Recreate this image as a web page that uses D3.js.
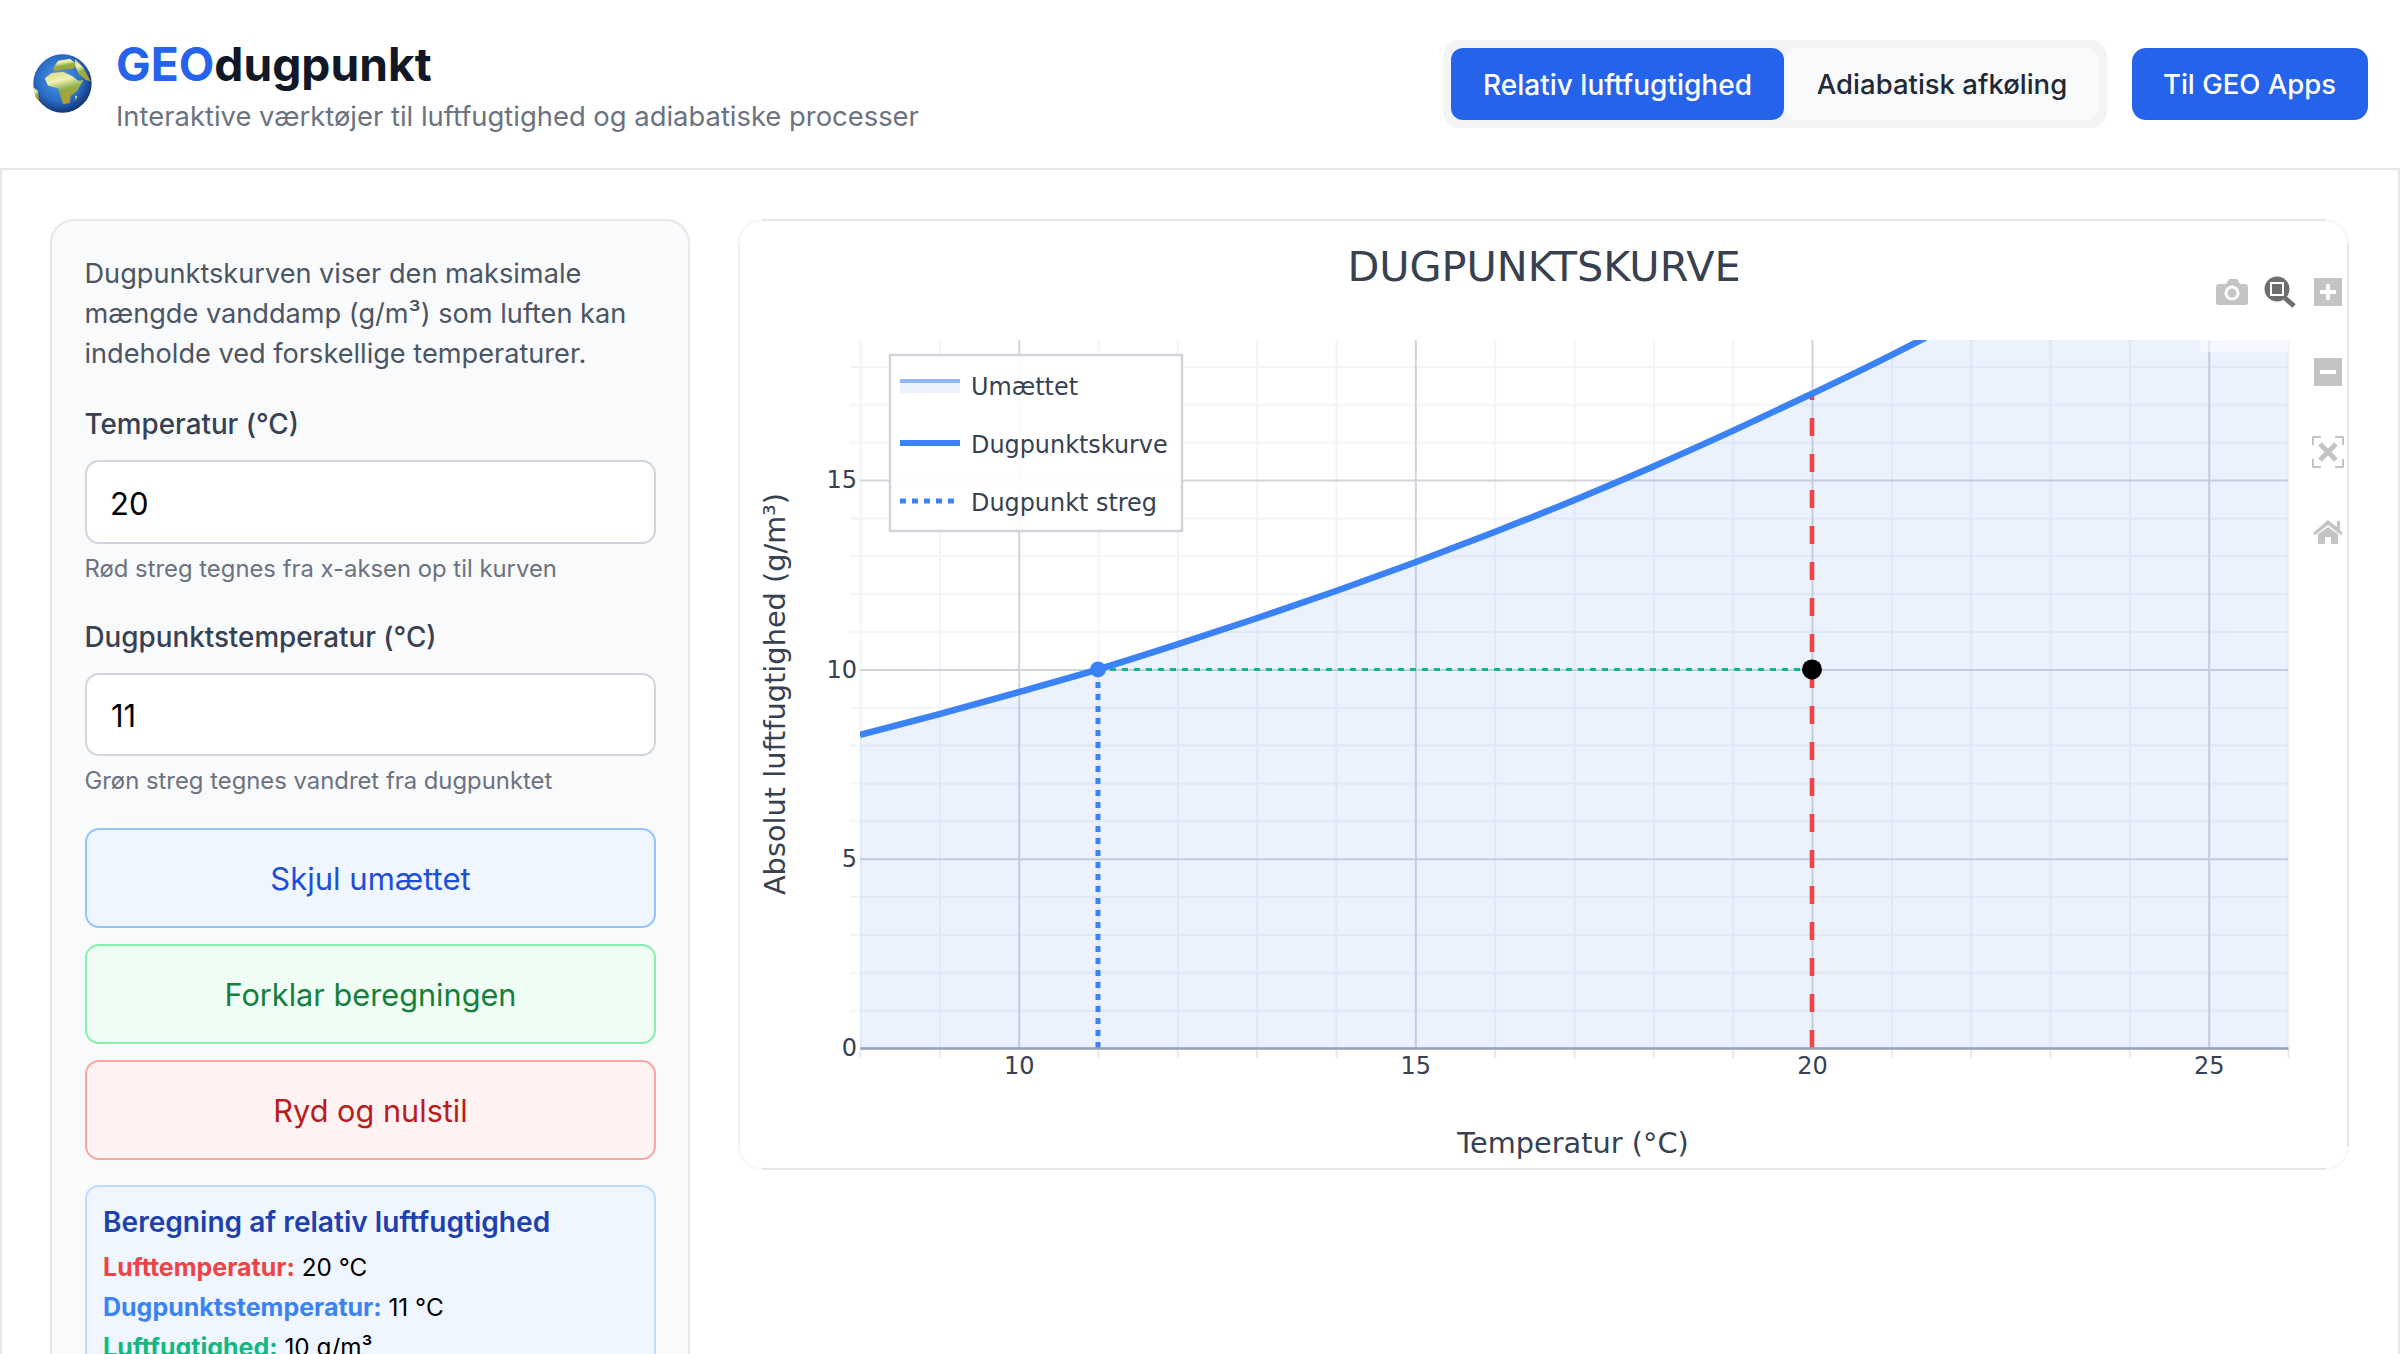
<!DOCTYPE html>
<html lang="da">
<head>
<meta charset="utf-8">
<title>GEOdugpunkt</title>
<script src="https://cdn.jsdelivr.net/npm/d3@7"></script>
<style>
  html, body { margin: 0; padding: 0; width: 2400px; height: 1354px; overflow: hidden; background: #fff; }
  body { font-family: Inter, "Noto Sans", sans-serif; position: relative; }
  .box { position: absolute; box-sizing: border-box; }
  .txt { position: absolute; white-space: nowrap; line-height: 1; }
  svg.chart { position: absolute; left: 0; top: 0; }
  svg.chart text { font-family: "DejaVu Sans", sans-serif; }
</style>
</head>
<body>
<script>
// data
const temps = [8, 9, 10, 11, 12, 13, 14, 15, 16, 17, 18, 19, 20, 21, 22, 23, 24, 25, 26];
const absHumidity = [8.27, 8.82, 9.4, 10.0, 10.66, 11.35, 12.07, 12.83, 13.63, 14.47, 15.36, 16.3, 17.28, 18.3, 19.4, 20.6, 21.8, 23.0, 24.4];
const xMajorTicks = [10, 15, 20, 25];
const xMinorTicks = [8, 9, 11, 12, 13, 14, 16, 17, 18, 19, 21, 22, 23, 24, 26];
const yMajorTicks = [0, 5, 10, 15];
const yMinorTicks = [1, 2, 3, 4, 6, 7, 8, 9, 11, 12, 13, 14, 16, 17, 18];
const legendLabels = ["Umættet", "Dugpunktskurve", "Dugpunkt streg"];
const airTemp = [20];
const dewTemp = [11];
const humidity = [10];
const airCurveValue = [17.28];

const body = d3.select("body");

function box(x0, y0, x1, y1, bg, border, radius, bw) {
  return body.append("div").attr("class", "box")
    .style("left", x0 + "px").style("top", y0 + "px")
    .style("width", (x1 - x0) + "px").style("height", (y1 - y0) + "px")
    .style("background", bg)
    .style("border", border ? (bw || 2) + "px solid " + border : "none")
    .style("border-radius", radius + "px");
}

// x is the left edge (or the centre when centred), base is the text baseline
function label(html, x, base, size, color, weight, centred) {
  return body.append("div").attr("class", "txt")
    .style("left", x + "px").style("top", (base + 1.5 - 0.864 * size) + "px")
    .style("font-size", size + "px").style("color", color)
    .style("font-weight", weight || 400)
    .style("transform", centred ? "translateX(-50%)" : null)
    .html(html);
}

// page frame
box(0, 168, 2400, 1400, "#fff", "#e5e7eb", 0);

// header
const globe = body.append("svg").attr("class", "box")
  .style("left", "33px").style("top", "54px")
  .attr("width", 59).attr("height", 59).attr("viewBox", "40 40 176 176");
const defs = globe.append("defs");
const sea = defs.append("radialGradient").attr("id", "sea").attr("cx", "45%").attr("cy", "42%").attr("r", "60%");
sea.append("stop").attr("offset", "0%").attr("stop-color", "#4f9be8");
sea.append("stop").attr("offset", "65%").attr("stop-color", "#2a6cc4");
sea.append("stop").attr("offset", "100%").attr("stop-color", "#0f2f6e");
const land = defs.append("linearGradient").attr("id", "land").attr("x1", "0").attr("y1", "0").attr("x2", "0.3").attr("y2", "1");
land.append("stop").attr("offset", "0%").attr("stop-color", "#cfd67e");
land.append("stop").attr("offset", "35%").attr("stop-color", "#f4f1b6");
land.append("stop").attr("offset", "62%").attr("stop-color", "#8fb04a");
land.append("stop").attr("offset", "100%").attr("stop-color", "#b49a2e");
globe.append("circle").attr("cx", 128).attr("cy", 128).attr("r", 87).attr("fill", "url(#sea)");
[
  "M75,112 L95,97 L130,93 L155,105 L175,120 L190,118 L172,150 L152,165 L150,186 L130,190 L122,165 L115,142 L85,135 Z",
  "M100,82 L115,60 L150,54 L170,70 L160,85 L130,86 L105,92 Z",
  "M165,55 L190,80 L212,122 L196,116 L176,100 L166,76 Z",
  "M42,140 L55,150 L58,182 L47,168 Z",
  "M166,163 L173,168 L166,180 Z"
].forEach(d => globe.append("path").attr("d", d).attr("fill", "url(#land)"));

label('<span style="color:#2563eb">GEO</span>dugpunkt', 116, 79.5, 46.2, "#111827", 700);
label("Interaktive værktøjer til luftfugtighed og adiabatiske processer", 116, 125.5, 27.4, "#6b7280");

box(1443, 40, 2107, 128, "#f3f4f6", null, 16);
box(1451, 48, 1784, 120, "#2563eb", null, 12);
box(1785, 48, 2099, 120, "#f9fafb", null, 12);
box(2131.5, 48, 2367.5, 120, "#2563eb", null, 14);
label("Relativ luftfugtighed", 1617.5, 93.5, 28, "#fff", 500, true);
label("Adiabatisk afkøling", 1942, 93.5, 27.5, "#1f2937", 500, true);
label("Til GEO Apps", 2249.5, 93.5, 27.5, "#fff", 500, true);

// side panel
box(50, 219, 690, 1500, "#f9fafb", "#e5e7eb", 24);
label("Dugpunktskurven viser den maksimale", 84.5, 281.5, 27.15, "#4b5563");
label("mængde vanddamp (g/m³) som luften kan", 84.5, 321.5, 27.15, "#4b5563");
label("indeholde ved forskellige temperaturer.", 84.5, 361.5, 27.15, "#4b5563");

label("Temperatur (°C)", 84.5, 434, 27.8, "#374151", 500);
box(84.5, 460, 656, 544, "#fff", "#d1d5db", 14);
label(airTemp[0], 110, 513, 31, "#000");
label("Rød streg tegnes fra x-aksen op til kurven", 84.5, 576.5, 23.85, "#6b7280");

label("Dugpunktstemperatur (°C)", 84.5, 646.5, 27.8, "#374151", 500);
box(84.5, 673, 656, 756, "#fff", "#d1d5db", 14);
label(dewTemp[0], 111, 725, 31, "#000");
label("Grøn streg tegnes vandret fra dugpunktet", 84.5, 788.5, 23.85, "#6b7280");

box(84.5, 828, 656, 928, "#eff6ff", "#93c5fd", 14);
label("Skjul umættet", 370.5, 888, 31, "#1d4ed8", 400, true);
box(84.5, 944, 656, 1044, "#f0fdf4", "#86efac", 14);
label("Forklar beregningen", 370.5, 1005, 30.7, "#15803d", 400, true);
box(84.5, 1060, 656, 1160, "#fef2f2", "#fca5a5", 14);
label("Ryd og nulstil", 370.5, 1121, 30.7, "#b91c1c", 400, true);

box(84.5, 1185, 656, 1500, "#eff6ff", "#bfdbfe", 14);
label("Beregning af relativ luftfugtighed", 103, 1230.5, 28.1, "#1e40af", 600);
const strong = (text, color) => `<b style="color:${color};font-weight:700;font-size:25px">${text}</b> `;
label(strong("Lufttemperatur:", "#ef4444") + airTemp[0] + " °C", 103, 1274, 24.3, "#000");
label(strong("Dugpunktstemperatur:", "#3b82f6") + dewTemp[0] + " °C", 103, 1314.5, 24.3, "#000");
label(strong("Luftfugtighed:", "#10b981") + humidity[0] + " g/m³", 103, 1354.5, 24.3, "#000");

// chart card: corners nearly vanish, so the straight runs are drawn over a faint outline
box(738, 219, 2349, 1170, "#fff", "#f7f7f9", 24);
box(762, 219, 2326, 221, "#e5e7eb", null, 0);
box(762, 1168, 2326, 1170, "#e5e7eb", null, 0);
box(2347, 243, 2349, 1146, "#e5e7eb", null, 0);
box(738, 243, 740, 1146, "#eeeff2", null, 0);

// chart
const width = 2400, height = 1354;
const margin = { top: 340, right: 112, bottom: 306, left: 860 };
const svg = body.append("svg").attr("class", "chart").attr("width", width).attr("height", height);

const x = d3.scaleLinear().domain([8, 26]).range([margin.left, width - margin.right]);
const y = d3.scaleLinear().domain([0, 18.7]).range([height - margin.bottom, margin.top]);
const plotW = width - margin.left - margin.right;
const plotH = height - margin.top - margin.bottom;

svg.append("clipPath").attr("id", "plot").append("rect")
  .attr("x", margin.left).attr("y", margin.top).attr("width", plotW).attr("height", plotH);

// grid, minor below major
function grid(axis, translate, color) {
  const g = svg.append("g").attr("transform", translate).call(axis);
  g.select(".domain").remove();
  g.selectAll("line").attr("stroke", color).attr("stroke-width", 2);
  g.selectAll("text").remove();
}
grid(d3.axisBottom(x).tickValues(xMinorTicks).tickSize(-plotH), `translate(0,${height - margin.bottom})`, "#f3f4f6");
grid(d3.axisLeft(y).tickValues(yMinorTicks).tickSize(-plotW), `translate(${margin.left},0)`, "#f3f4f6");
grid(d3.axisBottom(x).tickValues(xMajorTicks).tickSize(-plotH), `translate(0,${height - margin.bottom})`, "#d1d5db");
grid(d3.axisLeft(y).tickValues(yMajorTicks).tickSize(-plotW), `translate(${margin.left},0)`, "#d1d5db");

// curve and area
const points = temps.map((t, i) => [t, absHumidity[i]]);
const plot = svg.append("g").attr("clip-path", "url(#plot)");
plot.append("path").datum(points)
  .attr("fill", "rgba(59,130,246,0.1)")
  .attr("d", d3.area().x(d => x(d[0])).y0(y(0)).y1(d => y(d[1])).curve(d3.curveMonotoneX));

const straight = d3.line().x(d => x(d[0])).y(d => y(d[1]));
plot.append("path").datum([[dewTemp[0], humidity[0]], [airTemp[0], humidity[0]]])
  .attr("fill", "none").attr("stroke", "#10b981").attr("stroke-width", 3)
  .attr("stroke-dasharray", "6 6").attr("d", straight);
plot.append("path").datum([[airTemp[0], 0], [airTemp[0], airCurveValue[0]]])
  .attr("fill", "none").attr("stroke", "#ef4444").attr("stroke-width", 4.6)
  .attr("stroke-dasharray", "18 18").attr("d", straight);
plot.append("path").datum([[dewTemp[0], 0], [dewTemp[0], humidity[0]]])
  .attr("fill", "none").attr("stroke", "#3b82f6").attr("stroke-width", 5)
  .attr("stroke-dasharray", "6 6").attr("d", straight);
plot.append("path").datum(points)
  .attr("fill", "none").attr("stroke", "#3b82f6").attr("stroke-width", 6.5)
  .attr("d", d3.line().x(d => x(d[0])).y(d => y(d[1])).curve(d3.curveMonotoneX));

plot.append("circle").attr("cx", x(dewTemp[0])).attr("cy", y(humidity[0])).attr("r", 8).attr("fill", "#3b82f6");
plot.append("circle").attr("cx", x(airTemp[0])).attr("cy", y(humidity[0])).attr("r", 10).attr("fill", "#000");

// axes
const xAxisMinor = svg.append("g").attr("transform", `translate(0,${height - margin.bottom})`)
  .call(d3.axisBottom(x).tickValues(xMinorTicks).tickSize(10).tickFormat(""));
xAxisMinor.select(".domain").remove();
xAxisMinor.selectAll("line").attr("stroke", "#e5e7eb").attr("stroke-width", 2);

const xAxis = svg.append("g").attr("transform", `translate(0,${height - margin.bottom})`)
  .call(d3.axisBottom(x).tickValues(xMajorTicks).tickSize(0).tickPadding(9));
xAxis.select(".domain").attr("stroke", "#94a3b8").attr("stroke-width", 2.5);
xAxis.selectAll("text").attr("font-size", 24).attr("fill", "#374151");

const yAxisMinor = svg.append("g").attr("transform", `translate(${margin.left},0)`)
  .call(d3.axisLeft(y).tickValues(yMinorTicks).tickSize(10).tickFormat(""));
yAxisMinor.select(".domain").remove();
yAxisMinor.selectAll("line").attr("stroke", "#f3f4f6").attr("stroke-width", 2);

const yAxis = svg.append("g").attr("transform", `translate(${margin.left},0)`)
  .call(d3.axisLeft(y).tickValues(yMajorTicks).tickSize(0).tickPadding(3));
yAxis.select(".domain").remove();
yAxis.selectAll("text").attr("font-size", 24).attr("fill", "#374151");

// titles
svg.append("text").attr("x", 1544).attr("y", 280.5).attr("text-anchor", "middle")
  .attr("font-size", 41.4).attr("fill", "#374151").text("DUGPUNKTSKURVE");
svg.append("text").attr("x", 1573).attr("y", 1153).attr("text-anchor", "middle")
  .attr("font-size", 28.8).attr("fill", "#374151").text("Temperatur (°C)");
svg.append("text").attr("transform", "translate(785,694) rotate(-90)").attr("text-anchor", "middle")
  .attr("font-size", 28.8).attr("fill", "#374151").text("Absolut luftfugtighed (g/m³)");

// legend
const legend = svg.append("g");
legend.append("rect").attr("x", 890).attr("y", 355).attr("width", 292).attr("height", 176)
  .attr("fill", "rgba(255,255,255,0.92)").attr("stroke", "#d1d5db").attr("stroke-width", 2.5);
legend.append("rect").attr("x", 900).attr("y", 379).attr("width", 60).attr("height", 14).attr("fill", "#ebf3fe");
legend.append("line").attr("x1", 900).attr("x2", 960).attr("y1", 381).attr("y2", 381)
  .attr("stroke", "#93b8f9").attr("stroke-width", 4);
legend.append("line").attr("x1", 900).attr("x2", 960).attr("y1", 443).attr("y2", 443)
  .attr("stroke", "#3b82f6").attr("stroke-width", 6);
legend.append("line").attr("x1", 900).attr("x2", 960).attr("y1", 501).attr("y2", 501)
  .attr("stroke", "#3b82f6").attr("stroke-width", 5).attr("stroke-dasharray", "6 6");
legend.selectAll("text.item").data(legendLabels).join("text").attr("class", "item")
  .attr("x", 971).attr("y", (d, i) => 394.5 + i * 58.2)
  .attr("font-size", 23.9).attr("fill", "#374151").text(d => d);

// modebar
svg.append("rect").attr("x", 2200).attr("y", 340).attr("width", 88).attr("height", 12).attr("fill", "rgba(255,255,255,0.5)");
const bar = svg.append("g").attr("fill", "#c4c4c4");
// camera
bar.append("path").attr("d", "M2219,284 h7 l3,-5 h8 l3,5 h5 a3,3 0 0 1 3,3 v15 a3,3 0 0 1 -3,3 h-26 a3,3 0 0 1 -3,-3 v-15 a3,3 0 0 1 3,-3 Z");
bar.append("circle").attr("cx", 2232).attr("cy", 293).attr("r", 7.5).attr("fill", "#fff");
bar.append("circle").attr("cx", 2232).attr("cy", 293).attr("r", 4.5);
// zoom, active
bar.append("circle").attr("cx", 2277).attr("cy", 289).attr("r", 12.5).attr("fill", "#6e6e6e");
bar.append("rect").attr("x", 2271).attr("y", 283).attr("width", 12).attr("height", 12).attr("fill", "#6e6e6e").attr("stroke", "#fff").attr("stroke-width", 2);
bar.append("line").attr("x1", 2285).attr("y1", 298).attr("x2", 2294).attr("y2", 306).attr("stroke", "#6e6e6e").attr("stroke-width", 5);
// plus and minus
bar.append("rect").attr("x", 2314).attr("y", 278).attr("width", 28).attr("height", 28);
bar.append("path").attr("d", "M2320,292 h16 M2328,284 v16").attr("stroke", "#fff").attr("stroke-width", 4);
bar.append("rect").attr("x", 2314).attr("y", 358).attr("width", 28).attr("height", 28);
bar.append("path").attr("d", "M2320,372 h16").attr("stroke", "#fff").attr("stroke-width", 4);
// autoscale
bar.append("path").attr("fill", "none").attr("stroke", "#c4c4c4").attr("stroke-width", 2)
  .attr("d", "M2313,445 v-8 h8 M2335,437 h8 v8 M2343,459 v8 h-8 M2321,467 h-8 v-8");
bar.append("path").attr("fill", "none").attr("stroke", "#c4c4c4").attr("stroke-width", 5)
  .attr("d", "M2320,444 L2336,460 M2336,444 L2320,460");
// home
bar.append("path").attr("d", "M2328,520 L2337,527 V521 H2340 V530 L2343,533 L2341,535 L2328,525 L2315,535 L2313,533 Z");
bar.append("path").attr("d", "M2318,534 L2328,527 L2338,534 V544 H2331 V537 H2325 V544 H2318 Z");
</script>
</body>
</html>
